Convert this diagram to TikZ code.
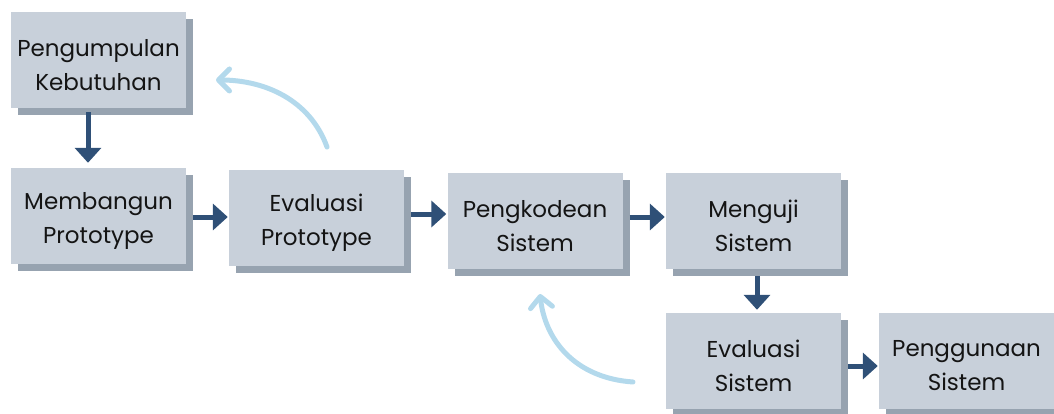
\documentclass[tikz,border=0pt]{standalone}
\usepackage{fontspec}
\setmainfont{Poppins}
\usetikzlibrary{arrows.meta,shadows}
\definecolor{boxc}{HTML}{C8D0DA}
\definecolor{shadc}{HTML}{97A3B0}
\definecolor{arrc}{HTML}{2F5077}
\definecolor{curc}{HTML}{B3D9EC}
\definecolor{txtc}{HTML}{141414}
\begin{document}
\begin{tikzpicture}[x=1pt,y=-1pt,
  stepbox/.style={fill=boxc, minimum width=175pt, minimum height=96pt, inner sep=0pt,
    drop shadow={shadow xshift=7pt, shadow yshift=-7pt, fill=shadc, opacity=1},
    label={[steptext]center:#1}},
  steptext/.style={align=center, text=txtc, font=\fontsize{23}{34}\selectfont, inner sep=0pt, yshift=-5pt},
  arr/.style={draw=arrc, line width=5pt, -{Triangle[width=26pt,length=15pt]}},
  back/.style={draw=curc, line width=5pt, line cap=round,
    -{Straight Barb[length=11pt,width=22pt,line join=round,line cap=round]}}]
\useasboundingbox (0,0) rectangle (1054,414);
\node[stepbox={Pengumpulan\\Kebutuhan}] (pk) at (98.5,60) {};
\node[stepbox={Membangun\\Prototype}] (mp) at (98.5,216) {};
\node[stepbox={Evaluasi\\Prototype}] (ep) at (316.5,218) {};
\node[stepbox={Pengkodean\\Sistem}] (ps) at (535,221) {};
\node[stepbox={Menguji\\Sistem}] (ms) at (753.5,221) {};
\node[stepbox={Evaluasi\\Sistem}] (es) at (753.5,361) {};
\node[stepbox={Penggunaan\\Sistem}] (pg) at (966.5,361) {};
\draw[arr] (pk.south -| 88,0) ++(0,4) -- ([yshift=5pt]mp.north -| 88,0);
\draw[arr] ([xshift=7pt]mp.east |- 0,217) -- ([xshift=-1pt]ep.west |- 0,217);
\draw[arr] ([xshift=7pt]ep.east |- 0,214) -- ([xshift=-1pt]ps.west |- 0,214);
\draw[arr] ([xshift=7pt]ps.east |- 0,217) -- ([xshift=-1pt]ms.west |- 0,217);
\draw[arr] (ms.south -| 757,0) ++(0,7) -- ([yshift=3pt]es.north -| 757,0);
\draw[arr] ([xshift=7pt]es.east |- 0,366) -- ([xshift=-1pt]pg.west |- 0,366);
\coordinate (c1) at (327,147);
\coordinate (c2) at (633,382);
\draw[back] (c1) .. controls (310,100) and (265,80) .. (216,80);
\draw[back] (c2) .. controls (575,378) and (545,340) .. (540,294);
\end{tikzpicture}
\end{document}
